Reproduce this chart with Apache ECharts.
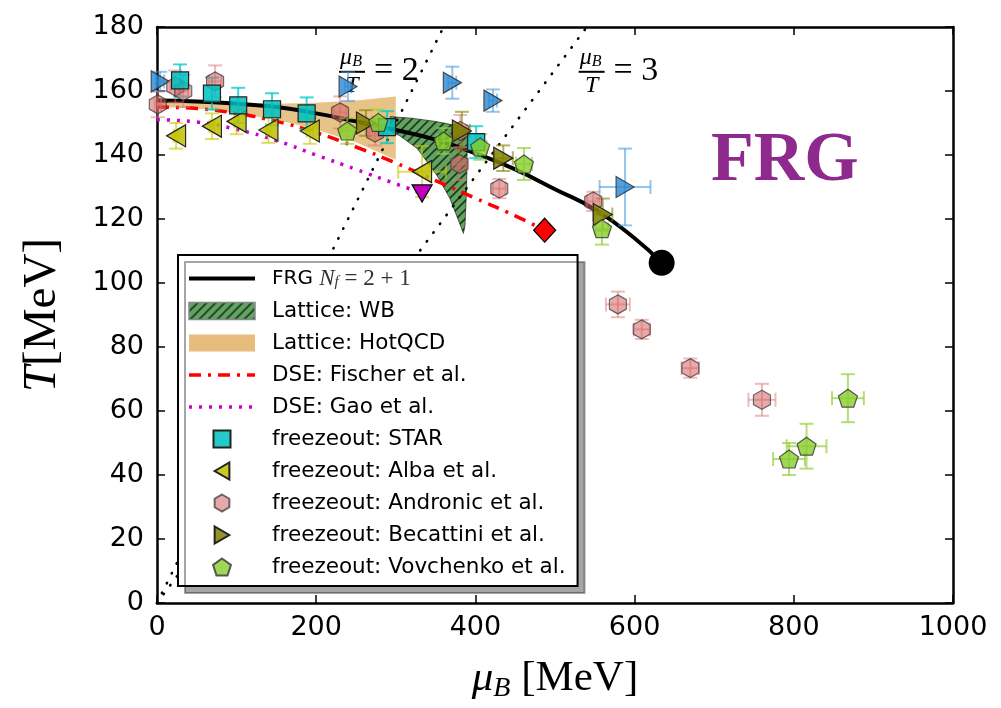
<!DOCTYPE html>
<html>
<head>
<meta charset="utf-8">
<script src="https://cdn.jsdelivr.net/npm/echarts@6/dist/echarts.min.js"></script>
<style>
  html, body { margin: 0; padding: 0; background: #fff; }
  #chart { width: 1001px; height: 708px; }
</style>
</head>
<body>
<div id="chart"></div>
<script>
// ---- data (muB in MeV, T in MeV) ----
var frgMu = [0, 50, 100, 150, 200, 250, 300, 350, 400, 450, 500, 550, 600, 634];
var frgT = [157, 156.7, 156, 155, 153, 150.5, 147.8, 144.8, 140.5, 135.5, 129.3, 123, 114, 106.3];
var frgCep = [[634, 106.3]];

var fischerMu = [0, 50, 100, 150, 200, 250, 300, 350, 400, 450, 487];
var fischerT = [155, 154.5, 153, 150.5, 147, 142.5, 137.5, 132, 126.5, 121, 116.5];
var fischerEnd = [[487, 116.5]];

var gaoMu = [0, 50, 100, 150, 200, 250, 300, 333];
var gaoT = [151, 150.3, 148, 144.5, 140, 135.5, 131, 128];
var gaoEnd = [[333, 128]];

var hotMu = [0, 50, 100, 150, 200, 250, 300];
var hotUpper = [157.5, 157.2, 156.5, 156, 156.3, 157, 158.3];
var hotLower = [155, 154.5, 153, 151, 148, 144, 138.5];

var wbUpperMu = [293, 320, 350, 370, 390, 389, 387, 385];
var wbUpperT = [152, 151.5, 150.5, 149.5, 148, 130, 118, 115.5];
var wbLowerMu = [378, 368, 352, 327, 305, 293];
var wbLowerT = [120, 126.4, 133.5, 142, 146, 147.5];

// freezeout points: [mu, T, mu error, T error]
var star = [[29, 163.3, 0, 5], [69, 159.2, 0, 5], [102, 155.5, 0, 5.5], [144.5, 154.3, 0, 5],
  [188, 153, 0, 5], [289, 148.7, 0, 5], [401, 144, 0, 5]];
var alba = [[24, 146, 3, 4], [69, 149, 3, 4], [100, 150.5, 3, 4], [140, 147.8, 3, 4],
  [192, 147.5, 4, 4], [333, 134.8, 30, 8]];
var andronic = [[1, 155.8, 4, 4], [23, 161.4, 6, 5], [33, 160, 6, 5], [73, 163, 8, 5],
  [230, 153.3, 8, 5], [274, 147, 8, 4], [381, 147.5, 8, 5], [380, 137.2, 10, 5],
  [430, 129.5, 8, 3], [548, 125.5, 8, 3], [579, 93.3, 15, 4], [609, 85.5, 10, 3],
  [670, 73.4, 11, 3], [760, 63.5, 17, 5]];
var becattini = [[262.5, 150, 10, 4], [383, 147.5, 10, 6], [435, 139, 12, 4], [560, 121.4, 12, 5]];
var vovchenko = [[239, 147.5, 8, 4], [278, 150.2, 8, 4], [360, 144.4, 8, 4], [406, 142.5, 8, 4],
  [461, 137.2, 10, 5], [559, 117, 8, 5], [794, 45, 20, 5], [816, 49, 25, 7], [868, 64, 20, 7.5]];
var other = [[4, 163, 5, 3], [240, 161.4, 4, 4.5], [371, 162.6, 5, 5], [422, 157, 5, 3.5], [588, 130, 32, 12]];

var ratioLines = [2, 3];
var ratioLabelPos = [[245, 166], [546, 166]];

// ---- helpers ----
function zip(a, b) { return a.map(function (v, i) { return [v, b[i]]; }); }

var SQUARE = 'path://M0,0L10,0L10,10L0,10Z';
var TRI_L = 'path://M0,50L86.6,0L86.6,100Z';
var TRI_R = 'path://M86.6,50L0,0L0,100Z';
var TRI_D = 'path://M0,0L100,0L50,86.6Z';
var HEX = 'path://M50,0L93.3,25L93.3,75L50,100L6.7,75L6.7,25Z';
var PENT = 'path://M50,0L97.6,34.5L79.4,90.5L20.6,90.5L2.4,34.5Z';

var hatch = document.createElement('canvas');
hatch.width = 9; hatch.height = 9;
var hc = hatch.getContext('2d');
hc.fillStyle = 'rgb(98,163,98)';
hc.fillRect(0, 0, 9, 9);
hc.strokeStyle = 'rgb(30,55,30)';
hc.lineWidth = 1.6;
hc.beginPath();
hc.moveTo(0, 9); hc.lineTo(9, 0);
hc.moveTo(-4.5, 4.5); hc.lineTo(4.5, -4.5);
hc.moveTo(4.5, 13.5); hc.lineTo(13.5, 4.5);
hc.stroke();
var hatchFill = { image: hatch, repeat: 'repeat' };

function errorBars(id, data, color) {
  return {
    type: 'custom', id: id, silent: true, z: 3,
    data: data,
    encode: { x: 0, y: 1 },
    renderItem: function (params, api) {
      var x = api.value(0), y = api.value(1), ex = api.value(2), ey = api.value(3);
      var c = api.coord([x, y]);
      var top = api.coord([x, y + ey])[1], bot = api.coord([x, y - ey])[1];
      var st = { stroke: color, lineWidth: 2, fill: null };
      var cap = 7;
      var ch = [
        { type: 'line', shape: { x1: c[0], y1: top, x2: c[0], y2: bot }, style: st },
        { type: 'line', shape: { x1: c[0] - cap, y1: top, x2: c[0] + cap, y2: top }, style: st },
        { type: 'line', shape: { x1: c[0] - cap, y1: bot, x2: c[0] + cap, y2: bot }, style: st }
      ];
      if (ex > 0) {
        var lft = api.coord([x - ex, y])[0], rgt = api.coord([x + ex, y])[0];
        ch.push({ type: 'line', shape: { x1: lft, y1: c[1], x2: rgt, y2: c[1] }, style: st });
        ch.push({ type: 'line', shape: { x1: lft, y1: c[1] - cap, x2: lft, y2: c[1] + cap }, style: st });
        ch.push({ type: 'line', shape: { x1: rgt, y1: c[1] - cap, x2: rgt, y2: c[1] + cap }, style: st });
      }
      return { type: 'group', children: ch };
    }
  };
}

function points(name, data, symbol, size, fill, edge) {
  return {
    type: 'scatter', name: name, z: 3, silent: true,
    data: data.map(function (d) { return [d[0], d[1]]; }),
    symbol: symbol, symbolSize: size,
    itemStyle: { color: fill, borderColor: edge, borderWidth: 1.2, opacity: 1 }
  };
}

function band(name, poly, fill, stroke) {
  return {
    type: 'custom', name: name, silent: true, z: 2,
    data: poly,
    encode: { x: 0, y: 1 },
    itemStyle: { color: fill },
    renderItem: function (params, api) {
      if (params.dataIndex !== 0) return;
      var pts = poly.map(function (p) { return api.coord(p); });
      return { type: 'polygon', shape: { points: pts }, style: { fill: fill, stroke: stroke, lineWidth: 1 } };
    }
  };
}

var hotPoly = zip(hotMu, hotUpper).concat(zip(hotMu, hotLower).reverse());
var wbPoly = zip(wbUpperMu, wbUpperT).concat(zip(wbLowerMu, wbLowerT));

var ratioSeries = ratioLines.map(function (k) {
  return {
    type: 'line', silent: true, z: 2, symbol: 'none',
    data: [[0, 0], [180 * k, 180]],
    lineStyle: { color: '#000', width: 2.6, type: [0.5, 10.5], cap: 'round' }
  };
});

var axisBase = {
  min: 0,
  axisLine: { show: true, onZero: false, lineStyle: { color: '#000', width: 2.5 } },
  axisTick: { show: true, inside: true, length: 8, lineStyle: { color: '#000', width: 1.5 } },
  splitLine: { show: false }
};

var labelFont = { color: '#000', fontSize: 27, fontFamily: 'DejaVu Sans', formatter: function (v) { return String(v); } };

var chart = echarts.init(document.getElementById('chart'));
var option = {
  backgroundColor: '#fff',
  animation: false,
  grid: { left: 157, right: 48, top: 27, bottom: 100 },
  xAxis: [
    Object.assign({}, axisBase, {
      type: 'value', max: 1000, interval: 200, position: 'bottom',
      axisLabel: Object.assign({ margin: 11 }, labelFont),
      name: '{m|μ}{s|B}{r| [MeV]}', nameLocation: 'middle', nameGap: 52,
      nameTextStyle: {
        rich: {
          m: { fontFamily: 'Liberation Serif', fontStyle: 'italic', fontSize: 43, lineHeight: 48, color: '#000' },
          s: { fontFamily: 'Liberation Serif', fontStyle: 'italic', fontSize: 28, lineHeight: 26, verticalAlign: 'bottom', color: '#000' },
          r: { fontFamily: 'Liberation Serif', fontSize: 43, lineHeight: 48, color: '#000' }
        }
      }
    }),
    Object.assign({}, axisBase, {
      type: 'value', max: 1000, interval: 200, position: 'top',
      axisLabel: { show: false }
    })
  ],
  yAxis: [
    Object.assign({}, axisBase, {
      type: 'value', max: 180, interval: 20, position: 'left',
      axisLabel: Object.assign({ margin: 13 }, labelFont),
      name: '{i|T}{r|[MeV]}', nameLocation: 'middle', nameGap: 91, nameRotate: 90,
      nameTextStyle: {
        rich: {
          i: { fontFamily: 'Liberation Serif', fontStyle: 'italic', fontSize: 47, color: '#000' },
          r: { fontFamily: 'Liberation Serif', fontSize: 47, color: '#000' }
        }
      }
    }),
    Object.assign({}, axisBase, {
      type: 'value', max: 180, interval: 20, position: 'right',
      axisLabel: { show: false }
    })
  ],
  legend: {
    left: 178, top: 255, orient: 'vertical', z: 10,
    backgroundColor: '#fff', borderColor: '#000', borderWidth: 2, borderRadius: 0,
    shadowColor: 'rgba(0,0,0,0.35)', shadowOffsetX: 7, shadowOffsetY: 7, shadowBlur: 0,
    padding: [12, 12, 8, 9],
    itemWidth: 66, itemHeight: 17, itemGap: 10,
    selectedMode: false,
    textStyle: {
      color: '#000', fontSize: 21.5, fontFamily: 'DejaVu Sans', padding: [0, 0, 0, 12],
      rich: {
        n: { color: '#000', fontSize: 20, fontFamily: 'DejaVu Sans' },
        m: { color: '#333', fontSize: 23, fontFamily: 'Liberation Serif', fontStyle: 'italic' },
        s: { color: '#333', fontSize: 15, fontFamily: 'Liberation Serif', fontStyle: 'italic', verticalAlign: 'bottom', lineHeight: 14 },
        e: { color: '#333', fontSize: 23, fontFamily: 'Liberation Serif' }
      }
    },
    formatter: function (name) {
      if (name === 'FRG') return '{n|FRG }{m|N}{s|f}{e| = 2 + 1}';
      return name;
    },
    data: [
      { name: 'FRG', itemStyle: { opacity: 0 }, lineStyle: { color: '#000', width: 4 } },
      { name: 'Lattice: WB', icon: 'rect', itemStyle: { color: hatchFill, borderColor: '#888', borderWidth: 1.5 } },
      { name: 'Lattice: HotQCD', icon: 'rect', itemStyle: { color: 'rgb(230,189,125)', borderWidth: 0 } },
      { name: 'DSE: Fischer et al.', itemStyle: { opacity: 0 }, lineStyle: { color: '#ff0000', width: 3.5, type: [12, 7, 3, 7] } },
      { name: 'DSE: Gao et al.', itemStyle: { opacity: 0 }, lineStyle: { color: '#cc00cc', width: 3.5, type: [3, 7] } },
      { name: 'freezeout: STAR', icon: SQUARE },
      { name: 'freezeout: Alba et al.', icon: TRI_L },
      { name: 'freezeout: Andronic et al.', icon: HEX },
      { name: 'freezeout: Becattini et al.', icon: TRI_R },
      { name: 'freezeout: Vovchenko et al.', icon: PENT }
    ]
  },
  series: [
    band('Lattice: HotQCD', hotPoly, 'rgba(228,184,115,0.85)', 'none'),
    band('Lattice: WB', wbPoly, hatchFill, 'rgba(0,0,0,0.55)'),
    ratioSeries[0], ratioSeries[1],
    {
      type: 'line', name: 'DSE: Gao et al.', z: 2, silent: true, symbol: 'none', smooth: true,
      data: zip(gaoMu, gaoT), itemStyle: { color: '#cc00cc' },
      lineStyle: { color: '#cc00cc', width: 3.5, type: [3, 7] }
    },
    {
      type: 'line', name: 'DSE: Fischer et al.', z: 2, silent: true, symbol: 'none', smooth: true,
      data: zip(fischerMu, fischerT), itemStyle: { color: '#ff0000' },
      lineStyle: { color: '#ff0000', width: 3.5, type: [12, 7, 3, 7] }
    },
    {
      type: 'line', name: 'FRG', z: 2, silent: true, symbol: 'none', smooth: true,
      data: zip(frgMu, frgT), itemStyle: { color: '#000' },
      lineStyle: { color: '#000', width: 4 }
    },
    {
      type: 'scatter', z: 3, silent: true, data: frgCep, symbol: 'circle', symbolSize: 26,
      itemStyle: { color: '#000', opacity: 1 }
    },
    {
      type: 'scatter', z: 3, silent: true, data: fischerEnd, symbol: 'diamond', symbolSize: [22, 24],
      itemStyle: { color: '#ff0000', borderColor: '#000', borderWidth: 1.2, opacity: 1 }
    },
    errorBars('err_other', other, 'rgba(60,150,220,0.55)'),
    points('other', other, TRI_R, [18, 21], 'rgba(40,135,210,0.8)', 'rgba(40,40,40,0.8)'),
    errorBars('err_alba', alba, 'rgba(200,200,0,0.6)'),
    points('freezeout: Alba et al.', alba, TRI_L, [19, 22], 'rgba(191,191,0,0.85)', '#222'),
    {
      type: 'scatter', z: 3, silent: true, data: gaoEnd, symbol: TRI_D, symbolSize: [20, 17],
      itemStyle: { color: '#c000c0', borderColor: '#000', borderWidth: 1.2, opacity: 1 }
    },
    errorBars('err_andronic', andronic, 'rgba(220,120,120,0.5)'),
    points('freezeout: Andronic et al.', andronic, HEX, [17, 19], 'rgba(210,100,100,0.55)', 'rgba(50,50,50,0.7)'),
    errorBars('err_star', star, 'rgba(0,200,200,0.75)'),
    points('freezeout: STAR', star, SQUARE, [17, 17], 'rgba(0,191,191,0.85)', '#222'),
    errorBars('err_becattini', becattini, 'rgba(128,128,0,0.6)'),
    points('freezeout: Becattini et al.', becattini, TRI_R, [19, 22], 'rgba(128,128,0,0.85)', '#222'),
    errorBars('err_vovchenko', vovchenko, 'rgba(150,210,60,0.7)'),
    points('freezeout: Vovchenko et al.', vovchenko, PENT, [19, 18], 'rgba(135,205,45,0.8)', 'rgba(50,50,50,0.8)')
  ]
};
chart.setOption(option);

// annotations: muB/T = k labels placed at data positions, plus the big FRG tag
var serif = 'Liberation Serif';
var graphics = ratioLines.map(function (k, i) {
  var p = chart.convertToPixel({ xAxisIndex: 0, yAxisIndex: 0 }, ratioLabelPos[i]);
  return {
    type: 'group', x: p[0], y: p[1], z: 20, silent: true,
    children: [
      { type: 'text', x: -1, y: -2, style: { text: '{m|μ}{s|B}', align: 'center', verticalAlign: 'bottom',
        rich: { m: { fontFamily: serif, fontStyle: 'italic', fontSize: 24, fill: '#000', lineHeight: 24 },
                s: { fontFamily: serif, fontStyle: 'italic', fontSize: 16, fill: '#000', lineHeight: 12, verticalAlign: 'bottom' } } } },
      { type: 'line', shape: { x1: -13, y1: 0, x2: 13, y2: 0 }, style: { stroke: '#000', lineWidth: 2 } },
      { type: 'text', x: 0, y: 2, style: { text: 'T', align: 'center', verticalAlign: 'top', fontFamily: serif, fontStyle: 'italic', fontSize: 24, fill: '#000' } },
      { type: 'text', x: 22, y: -1, style: { text: '= ' + k, align: 'left', verticalAlign: 'middle', fontFamily: serif, fontSize: 34, fill: '#000' } }
    ]
  };
});
graphics.push({
  type: 'text', left: 711, top: 127, z: 20, silent: true,
  style: { text: 'FRG', fontFamily: serif, fontWeight: 'bold', fontSize: 70, fill: '#8e2a8e' }
});
chart.setOption({ graphic: graphics });
</script>
</body>
</html>
